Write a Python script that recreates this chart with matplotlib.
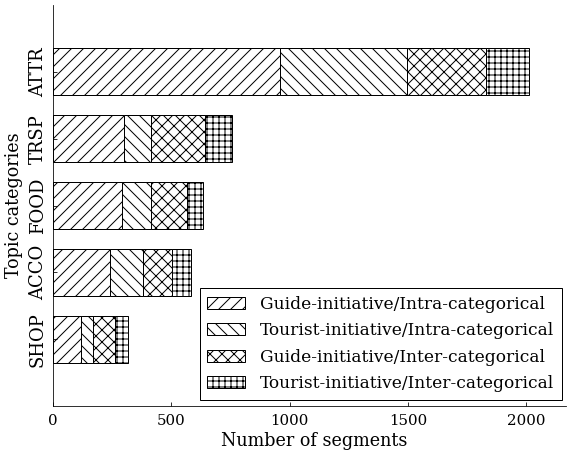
import numpy as np
import matplotlib.pyplot as plt

plt.rcParams['font.family'] = ['DejaVu Serif']
plt.rcParams['hatch.linewidth'] = 1.0

categories = ['SHOP', 'ACCO', 'FOOD', 'TRSP', 'ATTR']
series_labels = [
    'Guide-initiative/Intra-categorical',
    'Tourist-initiative/Intra-categorical',
    'Guide-initiative/Inter-categorical',
    'Tourist-initiative/Inter-categorical',
]
guide_intra = [120, 242, 290, 300, 960]
tourist_intra = [48, 138, 125, 115, 535]
guide_inter = [96, 121, 150, 225, 335]
tourist_inter = [51, 83, 70, 115, 180]
hatches = ['//', '\\\\', 'xx', '++']

fig = plt.figure(figsize=(567 / 72, 454 / 72), dpi=72)
ax = fig.add_axes([53 / 567, 48 / 454, 513 / 567, 401 / 454])

y = np.arange(len(categories))
left = np.zeros(len(categories))
for vals, lab, h in zip([guide_intra, tourist_intra, guide_inter, tourist_inter],
                        series_labels, hatches):
    ax.barh(y, vals, height=0.7, left=left, color='white', edgecolor='black',
            hatch=h, linewidth=1.0, label=lab)
    left += np.array(vals)

ax.set_yticks(y)
ax.set_yticklabels(categories, rotation=90, va='center', fontsize=18)
ax.set_ylim(-1, 5)
ax.set_xlim(0, 2167)
ax.set_xticks([0, 500, 1000, 1500, 2000])
ax.tick_params(axis='both', direction='in', length=4, width=0.8)
ax.tick_params(axis='x', labelsize=15, pad=8)
ax.tick_params(axis='y', pad=6)
ax.set_xlabel('Number of segments', fontsize=17.5)
ax.set_ylabel('Topic categories', fontsize=17.5)
ax.yaxis.set_label_coords(-0.059, 0.5)
ax.xaxis.set_label_coords(0.51, -0.088)
ax.xaxis.label.set_va('center')
ax.spines['top'].set_visible(False)
ax.spines['right'].set_visible(False)

leg = ax.legend(loc='lower right', fontsize=17, fancybox=False, edgecolor='black',
                framealpha=1, handlelength=2.2, handleheight=0.7, borderpad=0.45,
                labelspacing=0.56, handletextpad=0.9, borderaxespad=0,
                bbox_to_anchor=(0.992, 0.015))
leg.get_frame().set_linewidth(1.0)

fig.savefig('out.png', dpi=72)
